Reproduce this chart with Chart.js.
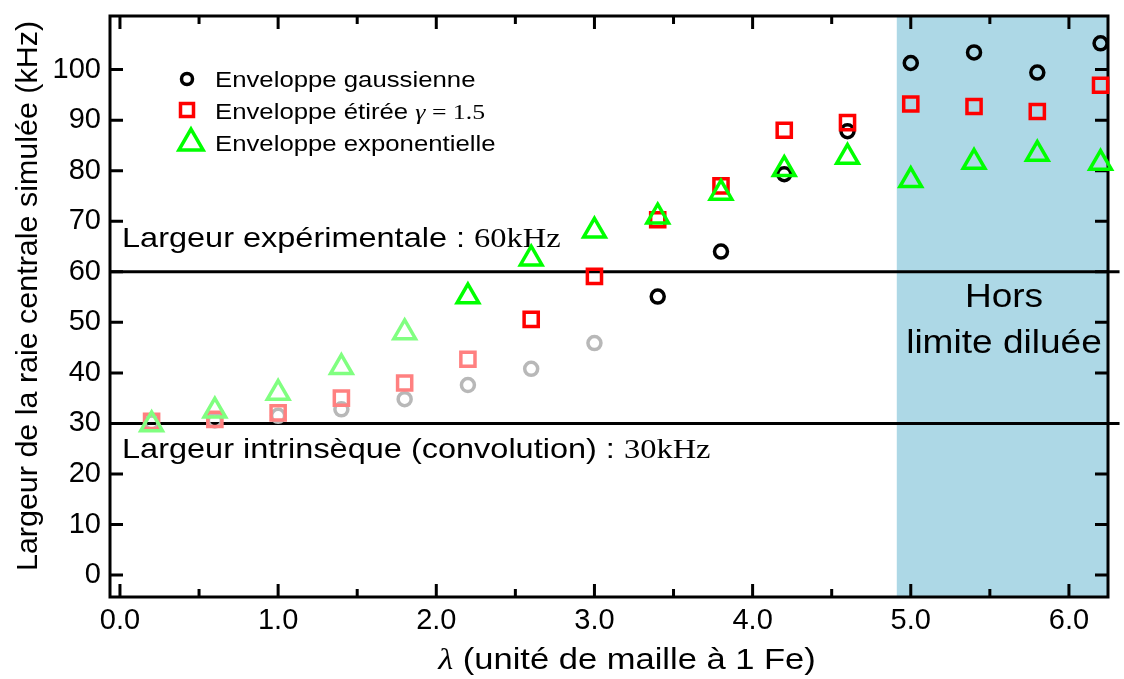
<!DOCTYPE html>
<html lang="fr">
<head>
<meta charset="UTF-8">
<meta name="viewport" content="width=device-width, initial-scale=1.0">
<title>Largeur de la raie centrale simulée</title>
<script src="https://cdn.jsdelivr.net/npm/chart.js@4.4.0/dist/chart.umd.min.js"></script>
<style>
   body { margin: 0; background: #fff; }
   .chart-container { position: relative; width: 1124px; height: 679px; }
</style>
</head>
<body>
<div class="chart-container">
   <canvas id="myChart"></canvas>
</div>
<script>
   // lambda (unité de maille à 1 Fe)
   const lambda = [0.2, 0.6, 1.0, 1.4, 1.8, 2.2, 2.6, 3.0, 3.4, 3.8, 4.2, 4.6, 5.0, 5.4, 5.8, 6.2];
   // largeur de la raie centrale simulée (kHz)
   const gaussienne = [30.2, 30.6, 31.5, 32.8, 34.8, 37.6, 40.8, 45.9, 55.1, 64.0, 79.3, 87.8, 101.3, 103.4, 99.4, 105.2];
   const etiree = [30.4, 30.8, 32.1, 35.0, 38.0, 42.7, 50.6, 59.1, 70.3, 77.0, 88.0, 89.5, 93.2, 92.7, 91.7, 96.9];
   const exponentielle = [29.8, 32.5, 36.0, 41.1, 48.0, 55.1, 62.6, 68.1, 70.9, 75.6, 80.3, 82.7, 78.1, 81.7, 83.3, 81.5];
   // nombre de premiers points tracés en pâle
   const paleGauss = 8;
   const paleEtiree = 6;
   const paleExpo = 5;

   const largeurExp = 60;
   const largeurIntr = 30;
   const horsDebut = 4.91;
   const lignesX = [-0.063, 6.32];

   const xMin = -0.063, xMax = 6.247;
   const yMin = -4.33, yMax = 110.6;
   const xTicks = [0, 1, 2, 3, 4, 5, 6];
   const xMinorTicks = [0.5, 1.5, 2.5, 3.5, 4.5, 5.5];
   const yTicks = [0, 10, 20, 30, 40, 50, 60, 70, 80, 90, 100];

   const SANS = '"Liberation Sans", Arial, sans-serif';
   const SERIF = '"Liberation Serif", "Times New Roman", serif';

   // texte en plusieurs morceaux (polices mélangées), étiré horizontalement de sx
   function drawRuns(ctx, runs, x, y, align, sx) {
      ctx.save();
      ctx.textBaseline = 'alphabetic';
      ctx.textAlign = 'left';
      let w = 0;
      runs.forEach(r => { ctx.font = r.font; w += ctx.measureText(r.text).width; });
      let start = align === 'center' ? -w / 2 : 0;
      ctx.translate(x, y);
      ctx.scale(sx, 1);
      let cx = start;
      runs.forEach(r => {
         ctx.font = r.font;
         ctx.fillStyle = '#000';
         ctx.fillText(r.text, cx, 0);
         cx += ctx.measureText(r.text).width;
      });
      ctx.restore();
   }

   function marker(ctx, style, x, y, r, color, lw) {
      ctx.save();
      ctx.strokeStyle = color;
      ctx.lineWidth = lw;
      ctx.beginPath();
      if (style === 'circle') {
         ctx.arc(x, y, r, 0, Math.PI * 2);
      } else if (style === 'rect') {
         ctx.rect(x - r, y - r, 2 * r, 2 * r);
      } else {
         for (let k = 0; k < 3; k++) {
            const a = k * 2 * Math.PI / 3;
            const px = x + Math.sin(a) * r, py = y - Math.cos(a) * r;
            if (k === 0) ctx.moveTo(px, py); else ctx.lineTo(px, py);
         }
         ctx.closePath();
      }
      ctx.stroke();
      ctx.restore();
   }

   const decor = {
      id: 'decor',
      afterDatasetDraw(chart, args) {
         if (args.index !== 0) return;
         const ctx = chart.ctx;
         const { left, right, top, bottom } = chart.chartArea;
         const sx = chart.scales.x, sy = chart.scales.y;
         ctx.save();
         ctx.strokeStyle = '#000';
         ctx.lineWidth = 3;
         ctx.strokeRect(left, top, right - left, bottom - top);
         ctx.beginPath();
         xTicks.forEach(v => {
            const p = sx.getPixelForValue(v);
            ctx.moveTo(p, bottom); ctx.lineTo(p, bottom - 13);
            ctx.moveTo(p, top); ctx.lineTo(p, top + 13);
         });
         xMinorTicks.forEach(v => {
            const p = sx.getPixelForValue(v);
            ctx.moveTo(p, bottom); ctx.lineTo(p, bottom - 8);
            ctx.moveTo(p, top); ctx.lineTo(p, top + 8);
         });
         yTicks.forEach(v => {
            const p = sy.getPixelForValue(v);
            ctx.moveTo(left, p); ctx.lineTo(left + 13, p);
            ctx.moveTo(right, p); ctx.lineTo(right - 13, p);
         });
         ctx.stroke();
         ctx.restore();

         // annotations
         drawRuns(ctx, [{ text: 'Largeur expérimentale : ', font: '28px ' + SANS },
                        { text: largeurExp + 'kHz', font: '28px ' + SERIF }], 122, 247, 'left', 1.16);
         drawRuns(ctx, [{ text: 'Largeur intrinsèque (convolution) : ', font: '28px ' + SANS },
                        { text: largeurIntr + 'kHz', font: '28px ' + SERIF }], 122, 458, 'left', 1.16);
         drawRuns(ctx, [{ text: 'Hors', font: '34px ' + SANS }], 1004, 307, 'center', 1.09);
         drawRuns(ctx, [{ text: 'limite diluée', font: '34px ' + SANS }], 1004, 353, 'center', 1.09);

         // légende
         marker(ctx, 'circle', 187, 79, 5.5, '#000', 3.5);
         marker(ctx, 'rect', 187, 110, 6.5, '#ff0000', 3.5);
         marker(ctx, 'triangle', 191, 143, 14, '#00ff00', 3.5);
         drawRuns(ctx, [{ text: 'Enveloppe gaussienne', font: '22px ' + SANS }], 215, 87, 'left', 1.17);
         drawRuns(ctx, [{ text: 'Enveloppe étirée ', font: '22px ' + SANS },
                        { text: 'γ', font: 'italic 22px ' + SERIF },
                        { text: ' = 1.5', font: '22px ' + SERIF }], 215, 119, 'left', 1.17);
         drawRuns(ctx, [{ text: 'Enveloppe exponentielle', font: '22px ' + SANS }], 215, 151, 'left', 1.17);

         // titres des axes
         ctx.save();
         ctx.translate(37, 296);
         ctx.rotate(-Math.PI / 2);
         drawRuns(ctx, [{ text: 'Largeur de la raie centrale simulée (kHz)', font: '29px ' + SANS }], 0, 0, 'center', 1.05);
         ctx.restore();
         drawRuns(ctx, [{ text: 'λ', font: 'italic 29px ' + SERIF },
                        { text: ' (unité de maille à 1 Fe)', font: '29px ' + SANS }], 627, 669, 'center', 1.19);
      }
   };

   function points(label, data, style, radius, color, pale, paleColor, order) {
      return {
         label: label,
         data: lambda.map((x, i) => ({ x: x, y: data[i] })),
         showLine: false,
         pointStyle: style,
         pointRadius: radius,
         pointBorderWidth: 3.5,
         pointBackgroundColor: 'rgba(0,0,0,0)',
         pointBorderColor: ctx => ctx.dataIndex < pale ? paleColor : color,
         clip: false,
         order: order
      };
   }

   function hline(v) {
      return {
         data: lignesX.map(x => ({ x: x, y: v })),
         showLine: true,
         borderColor: '#000',
         borderWidth: 3,
         pointRadius: 0,
         clip: false,
         order: 5
      };
   }

   const config = {
      type: 'scatter',
      data: {
         datasets: [{
            label: 'Hors limite diluée',
            data: [{ x: horsDebut, y: yMax }, { x: xMax, y: yMax }],
            showLine: true,
            fill: 'start',
            backgroundColor: '#add8e6',
            borderWidth: 0,
            pointRadius: 0,
            order: 10
         },
         hline(largeurExp),
         hline(largeurIntr),
         points('Enveloppe gaussienne', gaussienne, 'circle', 6.5, '#000000', paleGauss, '#b8b8b8', 3),
         points('Enveloppe étirée', etiree, 'rect', 10, '#ff0000', paleEtiree, '#ff8080', 2),
         points('Enveloppe exponentielle', exponentielle, 'triangle', 12.5, '#00ff00', paleExpo, '#80ff80', 1)]
      },
      options: {
         responsive: true,
         maintainAspectRatio: false,
         animation: false,
         events: [],
         layout: { padding: { top: 13, right: 12, left: 0, bottom: 0 } },
         plugins: { legend: { display: false }, tooltip: { enabled: false } },
         scales: {
            x: {
               type: 'linear',
               min: xMin,
               max: xMax,
               grid: { display: false, drawTicks: false },
               border: { display: false },
               ticks: {
                  color: '#000',
                  font: { family: SANS, size: 29 },
                  padding: 7,
                  maxRotation: 0,
                  autoSkip: false,
                  callback: v => v.toFixed(1)
               },
               afterBuildTicks: s => { s.ticks = xTicks.map(v => ({ value: v })); },
               afterFit: s => { s.height = 82; s.paddingLeft = 0; s.paddingRight = 0; }
            },
            y: {
               type: 'linear',
               min: yMin,
               max: yMax,
               grid: { display: false, drawTicks: false },
               border: { display: false },
               ticks: {
                  color: '#000',
                  font: { family: SANS, size: 29 },
                  padding: 9,
                  autoSkip: false
               },
               afterBuildTicks: s => { s.ticks = yTicks.map(v => ({ value: v })); },
               afterFit: s => { s.width = 110; s.paddingTop = 0; s.paddingBottom = 0; }
            }
         }
      },
      plugins: [decor]
   };

   new Chart(document.getElementById('myChart'), config);
</script>
</body>
</html>
